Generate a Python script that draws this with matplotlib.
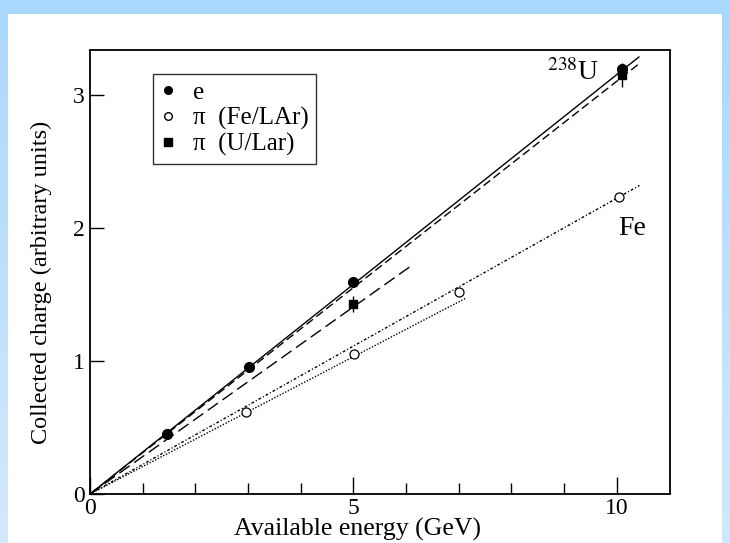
import matplotlib
matplotlib.use("Agg")
import matplotlib.pyplot as plt
import numpy as np
from matplotlib.patches import Rectangle
from matplotlib.lines import Line2D
from matplotlib.colors import LinearSegmentedColormap

# ---- data ----
e_x = [1.46, 3.02, 5.0, 10.1]
e_y = [0.45, 0.957, 1.595, 3.2]

fe_x = [2.96, 5.02, 7.0, 10.05]
fe_y = [0.62, 1.05, 1.52, 2.235]

u_x = [5.0, 10.1]
u_y = [1.43, 3.15]
u_err = [0.06, 0.09]

# fitted lines through origin: slope and end x
fit_slope = [0.3155, 0.3105, 0.2815, 0.2225, 0.2065]
fit_xmax = [10.42, 10.45, 6.15, 10.43, 7.15]
fit_style = ['-', (0, (6, 3)), (0, (9, 4)), (0, (2, 1.5, 0.8, 1.5)), (0, (1, 1.2))]

x_major = [0, 5, 10]
x_minor = [1, 2, 3, 4, 6, 7, 8, 9]
y_ticks = [0, 1, 2, 3]

plt.rcParams['font.family'] = ['Liberation Serif', 'DejaVu Serif']
plt.rcParams['mathtext.fontset'] = 'stix'

fig = plt.figure(figsize=(7.30, 5.43), dpi=100)
fig.patch.set_facecolor('#a9d8fd')

# background gradient band + white panel
bg = fig.add_axes([0, 0, 1, 1], zorder=-10)
grad = np.linspace(0, 1, 256).reshape(-1, 1)
cmap = LinearSegmentedColormap.from_list('b', ['#d2e9fc', '#a9d8fd'])
bg.imshow(grad, aspect='auto', cmap=cmap, extent=[0, 1, 0, 1], origin='lower')
bg.add_patch(Rectangle((8 / 730, 0), (722 - 8) / 730, 1 - 14 / 543,
                       facecolor='white', edgecolor='none'))
bg.set_xlim(0, 1)
bg.set_ylim(0, 1)
bg.axis('off')

ax = fig.add_axes([90 / 730, 1 - 494 / 543, 580 / 730, 444 / 543])
ax.set_facecolor('none')

for s, xm, ls in zip(fit_slope, fit_xmax, fit_style):
    ax.plot([0, xm], [0, s * xm], color='black', lw=1.0, linestyle=ls)

ax.errorbar(u_x, u_y, yerr=u_err, fmt='s', color='black', ms=6,
            elinewidth=1.0, capsize=0, zorder=5)
ax.plot(e_x, e_y, 'o', color='black', ms=7, zorder=6)
ax.plot(fe_x, fe_y, 'o', mfc='white', mec='black', mew=0.9, ms=6.5, zorder=6)

ax.set_xlim(0, 11.01)
ax.set_ylim(0, 3.34)

ax.set_xticks(x_major)
ax.set_xticks(x_minor, minor=True)
ax.set_yticks(y_ticks)
ax.set_xticklabels([str(v) for v in x_major])
ax.set_yticklabels([str(v) for v in y_ticks])
ax.tick_params(axis='x', which='major', direction='in', length=12, width=1, labelsize=17, pad=3)
ax.tick_params(axis='x', which='minor', direction='in', length=8, width=1)
ax.tick_params(axis='y', which='major', direction='in', length=10, width=1, labelsize=17, pad=4)
for sp in ax.spines.values():
    sp.set_linewidth(1.3)

ax.set_xlabel('Available energy (GeV)', fontsize=18.5)
ax.set_ylabel('Collected charge (arbitrary units)', fontsize=17.5)
ax.xaxis.set_label_coords(0.462, -0.053)
ax.yaxis.set_label_coords(-0.066, 0.477)

ax.text(9.18, 3.17, r'$^{238}$U', fontsize=20, ha='center', va='center')
ax.text(10.3, 2.0, 'Fe', fontsize=20, ha='center', va='center')

handles = [
    Line2D([], [], marker='o', color='black', ls='none', ms=5.5),
    Line2D([], [], marker='o', mfc='white', mec='black', ls='none', ms=5.5),
    Line2D([], [], marker='s', color='black', ls='none', ms=5.5),
]
labels = ['e', 'π  (Fe/LAr)', 'π  (U/Lar)']
leg = ax.legend(handles, labels, loc='upper left', bbox_to_anchor=(0.109, 0.946),
                fontsize=18, frameon=True, fancybox=False, edgecolor='black',
                handlelength=0.6, handletextpad=0.7, labelspacing=0.12,
                borderpad=0.3, borderaxespad=0)
leg.get_frame().set_linewidth(1.0)

fig.savefig('out.png', dpi=100, facecolor=fig.get_facecolor())
